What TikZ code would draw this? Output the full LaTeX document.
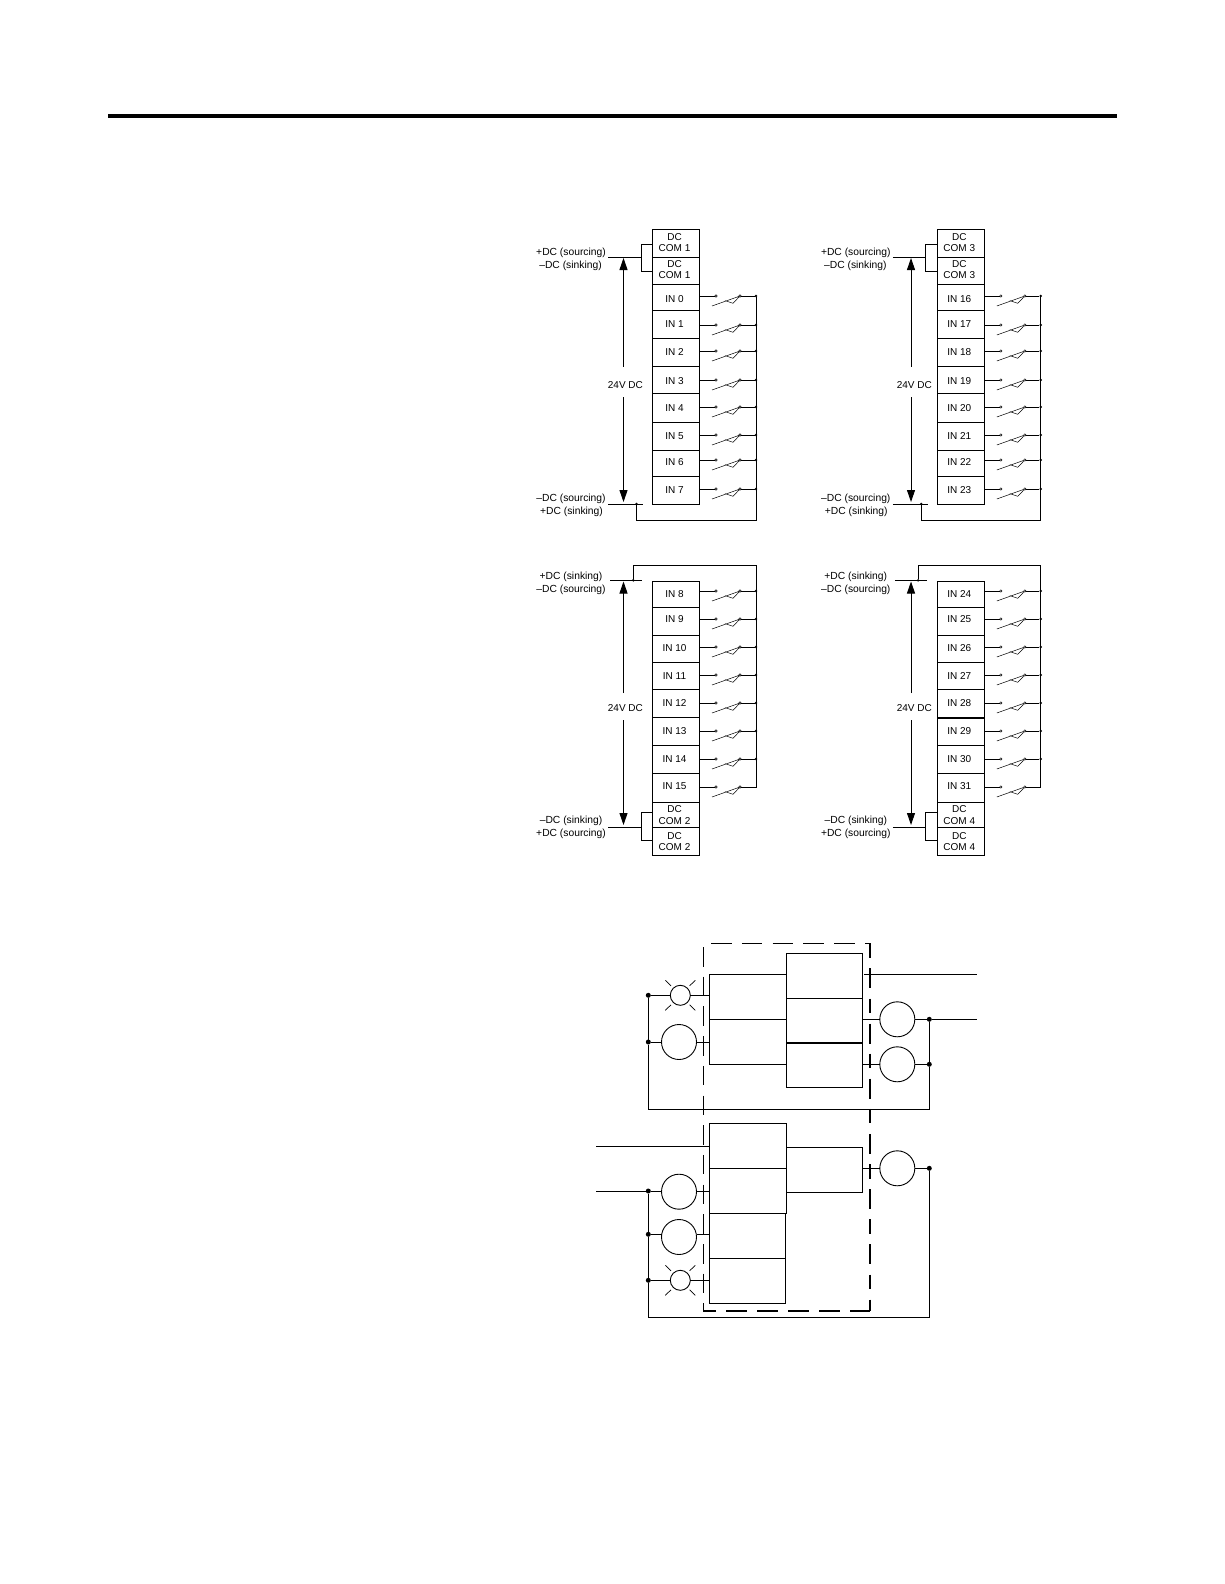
\documentclass[tikz,border=0pt]{standalone}
\usepackage{fontspec}
\setmainfont{Liberation Sans}
\usetikzlibrary{arrows.meta}
\tikzset{
  wire/.style={line width=0.95pt,black},
  term/.style={draw,line width=0.95pt,rectangle,inner sep=0pt,outer sep=0pt,minimum width=47pt},
  termtext/.style={inner sep=0pt,align=center,font=\fontsize{10}{11.7}\selectfont},
  blank/.style={draw,line width=1pt,rectangle,inner sep=0pt,outer sep=0pt},
  slabel/.style={inner sep=0pt,font=\fontsize{10.3}{12}\selectfont},
  vlabel/.style={inner sep=0pt,font=\fontsize{10}{12}\selectfont},
  sdot/.style={circle,fill=black,inner sep=0pt,outer sep=0pt,minimum size=2.8pt},
  nodot/.style={inner sep=0pt,outer sep=0pt},
  opencontact/.style={circle,draw,line width=0.5pt,fill=white,inner sep=0pt,outer sep=0pt,minimum size=2.4pt},
  bigdot/.style={circle,fill=black,inner sep=0pt,outer sep=0pt,minimum size=5pt},
  coil/.style={circle,draw,line width=0.9pt,inner sep=0pt,outer sep=0pt,minimum size=35pt},
  lamp/.style={circle,draw,line width=0.9pt,inner sep=0pt,outer sep=0pt,minimum size=20pt},
  ray/.style={line width=0.7pt},
  blade/.style={line width=0.5pt},
  volt/.style={line width=0.95pt,-{Triangle[width=8pt,length=12pt]}}
}
% #1 prefix, #2 index, #3 dx, #4 top, #5 bottom, #6 label, #7 label y shift
\newcommand\dcrow[7]{%
  \node[term,minimum height={(#5-#4)*1pt}] (#1r#2) at ({676+#3},{(#4+#5)/2}) {};
  \node[termtext] (#1x#2) at ({674.5+#3},{(#4+#5)/2+#7}) {#6};}
% #1 prefix, #2 index, #3 dx, #4 top, #5 bottom, #6 wire y, #7 label, #8 bus dot node style, #9 label y
\newcommand\inrow[9]{%
  \node[term,minimum height={(#5-#4)*1pt}] (#1r#2) at ({676+#3},{(#4+#5)/2}) {};
  \node[termtext] (#1x#2) at ({674.5+#3},#9) {#7};
  \node[opencontact] (#1a#2) at ({716+#3},#6) {};
  \node[opencontact] (#1b#2) at ({740+#3},#6) {};
  \node[#8] (#1d#2) at ({756+#3},#6) {};
  \draw[wire] (#1r#2.east |- #1a#2) -- (#1a#2);
  \draw[wire] (#1b#2) -- (#1d#2);
  \coordinate (#1s#2) at ({712+#3},{#6+10});
  \coordinate (#1m#2) at ({725+#3},{#6+4.6});
  \coordinate (#1n#2) at ({733+#3},{#6+7.3});
  \draw[blade] (#1s#2) -- (#1b#2) -- (#1n#2) -- (#1m#2);
}
\newcommand\upperpanel[6]{% prefix, dx, arrowx, labelx, com text, first-in number
  \dcrow{#1}{t}{#2}{229}{257}{DC\\COM #5}{-0.5}
  \dcrow{#1}{u}{#2}{257}{284}{DC\\COM #5}{-1}
  \foreach \i/\a/\b/\w/\y [evaluate=\i as \n using {int(\i+#6)}] in {0/284/310/296/298.8,1/310/338/325/324,2/338/366.5/351/352.3,3/366.5/393.7/380/380.6,4/393.7/422/407/407.8,5/422/450/435/436,6/450/476.5/460/462.4,7/476.5/504/489/489.6}
    {\inrow{#1}{\i}{#2}{\a}{\b}{\w}{IN \n}{sdot}{\y}}
  \node[slabel] (#1la) at ({571+#2},252.7) {+DC (sourcing)};
  \node[slabel] (#1lb) at ({570.5+#2},265.7) {–DC (sinking)};
  \node[slabel] (#1lc) at ({571+#2},499) {–DC (sourcing)};
  \node[slabel] (#1ld) at ({571.5+#2},512) {+DC (sinking)};
  \coordinate (#1p) at ({608+#2},257);
  \coordinate (#1q) at ({641+#2},257);
  \draw[wire] (#1p) -- (#1q);
  \coordinate (#1qa) at ({641+#2},244);
  \coordinate (#1qb) at ({641+#2},271);
  \draw[wire] (#1qa -| #1rt.west) -- (#1qa) -- (#1qb) -- (#1qb -| #1ru.west);
  \coordinate (#1e) at ({608+#2},504);
  \coordinate (#1f) at ({643+#2},504);
  \draw[wire] (#1e) -- (#1f);
  \node[sdot] (#1g) at ({636.5+#2},504) {};
  \coordinate (#1h) at ({756+#2},520);
  \draw[wire] (#1d0) -- (#1h) -- (#1h -| #1g) -- (#1g);
  \node[vlabel] (#1v) at (#4,384.6) {24V DC};
  \coordinate (#1vt) at (#3,258);
  \coordinate (#1vb) at (#3,502);
  \coordinate (#1vi) at (#3,366.7);
  \coordinate (#1vj) at (#3,397);
  \draw[volt] (#1vi) -- (#1vt);
  \draw[volt] (#1vj) -- (#1vb);
}
\newcommand\lowerpanel[6]{% prefix, dx, arrowx, labelx, com text, first-in number
  \foreach \i/\a/\b/\w/\y [evaluate=\i as \n using {int(\i+#6)}] in {0/581/607/591/594,1/607/635/619/618.8,2/635/662/647/648,3/662/689.5/675/676,4/689.5/717.8/703/702.6,5/717.8/745/731/731,6/745/773/759/758.6}
    {\inrow{#1}{\i}{#2}{\a}{\b}{\w}{IN \n}{sdot}{\y}}
  \pgfmathtruncatemacro\lastin{7+#6}
  \inrow{#1}{7}{#2}{773}{802}{787}{IN \lastin}{nodot}{786}
  \dcrow{#1}{t}{#2}{802}{827.3}{DC\\COM #5}{0.2}
  \dcrow{#1}{u}{#2}{827.3}{855}{DC\\COM #5}{0.5}
  \node[slabel] (#1la) at ({571+#2},576.7) {+DC (sinking)};
  \node[slabel] (#1lb) at ({571+#2},589.7) {–DC (sourcing)};
  \node[slabel] (#1lc) at ({571+#2},820.8) {–DC (sinking)};
  \node[slabel] (#1ld) at ({571+#2},833.7) {+DC (sourcing)};
  \coordinate (#1p) at ({610+#2},580.3);
  \coordinate (#1q) at ({642+#2},580.3);
  \draw[wire] (#1p) -- (#1q);
  \node[sdot] (#1g) at ({633.3+#2},580.3) {};
  \coordinate (#1h) at ({756+#2},565.7);
  \draw[wire] (#1g) -- (#1g |- #1h) -- (#1h) -- (#1d7.center) -- (#1b7);
  \coordinate (#1e) at ({608+#2},827.3);
  \coordinate (#1f) at ({641+#2},827.3);
  \draw[wire] (#1e) -- (#1f);
  \coordinate (#1qa) at ({641+#2},812.3);
  \coordinate (#1qb) at ({641+#2},840);
  \draw[wire] (#1qa -| #1rt.west) -- (#1qa) -- (#1qb) -- (#1qb -| #1ru.west);
  \node[vlabel] (#1v) at (#4,707.7) {24V DC};
  \coordinate (#1vt) at (#3,581.5);
  \coordinate (#1vb) at (#3,825);
  \coordinate (#1vi) at (#3,693);
  \coordinate (#1vj) at (#3,720);
  \draw[volt] (#1vi) -- (#1vt);
  \draw[volt] (#1vj) -- (#1vb);
}
% #1 name, #2 x left, #3 x right, #4 top, #5 bottom
\newcommand\bbox[5]{\node[blank,minimum width={(#3-#2)*1pt},minimum height={(#5-#4)*1pt}] (#1) at ({(#2+#3)/2},{(#4+#5)/2}) {};}
\newcommand\rays[1]{%
  \draw[ray] ([shift={(-9.3,-9.5)}]#1.center) -- ([shift={(-15,-15)}]#1.center);
  \draw[ray] ([shift={(9.3,-9.5)}]#1.center) -- ([shift={(15,-15)}]#1.center);
  \draw[ray] ([shift={(-9.3,9.5)}]#1.center) -- ([shift={(-15,15)}]#1.center);
  \draw[ray] ([shift={(9.3,9.5)}]#1.center) -- ([shift={(15,15)}]#1.center);
}
\begin{document}
\begin{tikzpicture}[x=1pt,y=-1pt]
\useasboundingbox[fill=white] (0,0) rectangle (1224,1584);
\coordinate (ruleL) at (108.3,115.7);
\coordinate (ruleR) at (1116.7,115.7);
\draw[line width=4pt] (ruleL) -- (ruleR);

\upperpanel{a}{0}{623.5}{625.4}{1}{0}
\upperpanel{b}{284.8}{911}{914.3}{3}{16}
\lowerpanel{c}{0}{623.5}{625.4}{2}{8}
\lowerpanel{d}{284.8}{911}{914.3}{4}{24}
\draw[line width=1.8pt] (dr4.south west) -- (dr4.south east);

% dashed enclosure
\coordinate (dTL) at (703.3,947);
\coordinate (dBL) at (703.3,1310.7);
\coordinate (dBR) at (870,1310.7);
\coordinate (dTR) at (870,943.3);
\coordinate (dTS) at (711,943.3);
\draw[line width=1pt,dash pattern=on 19.5pt off 10.2pt] (dTL) -- (dBL);
\draw[line width=1.3pt,dash pattern=on 20.5pt off 10.3pt] (dTS) -- (dTR);
\draw[line width=1.7pt,dash pattern=on 13pt off 10pt on 21pt off 10pt on 21pt off 10pt on 21pt off 10pt on 21pt off 10pt on 21pt off 10pt on 21pt off 10pt] (dBL) -- (dBR);
\draw[line width=2pt,dash pattern=on 14.5pt off 10.5pt on 20pt off 10.2pt] (dTR) -- (dBR);

% upper block
\bbox{ula}{709.3}{786.3}{974.3}{1019.3}
\bbox{ulb}{709.3}{786.3}{1019.3}{1064.3}
\bbox{ura}{786.3}{862.3}{953.3}{998.3}
\bbox{urb}{786.3}{862.3}{998.3}{1042.7}
\bbox{urc}{786.3}{862.3}{1042.7}{1087.3}
\draw[line width=2pt] (urc.north west) -- (urc.north east);
\node[lamp] (lampU) at (680.3,995.3) {};
\rays{lampU}
\node[coil] (coilU) at (679,1042) {};
\node[coil] (coilRa) at (897.3,1019.3) {};
\node[coil] (coilRb) at (897.3,1064.3) {};
\node[bigdot] (dUa) at (648.3,995.3) {};
\node[bigdot] (dUb) at (648.3,1042) {};
\node[bigdot] (dUc) at (929.3,1019.3) {};
\node[bigdot] (dUd) at (929.3,1064.3) {};
\coordinate (bUL) at (648.3,1109);
\coordinate (bUR) at (929.3,1109);
\coordinate (oUa) at (864,974.3);
\coordinate (eUa) at (976.7,974.3);
\coordinate (eUb) at (976.7,1019.3);
\draw[wire] (dUa) -- (lampU);
\draw[wire] (lampU) -- (lampU -| ula.west);
\draw[wire] (dUb) -- (coilU);
\draw[wire] (coilU) -- (coilU -| ulb.west);
\draw[wire] (dUa) -- (dUb) -- (bUL) -- (bUR) -- (dUd) -- (dUc);
\draw[wire] (coilRa -| urb.east) -- (coilRa);
\draw[wire] (coilRb -| urc.east) -- (coilRb);
\draw[wire] (coilRa) -- (dUc) -- (eUb);
\draw[wire] (coilRb) -- (dUd);
\draw[wire] (oUa) -- (eUa);

% lower block
\bbox{lla}{709.3}{786.3}{1123.3}{1168.3}
\bbox{llb}{709.3}{786.3}{1168.3}{1213.3}
\bbox{llc}{709.3}{785.6}{1213.3}{1258.3}
\bbox{lld}{709.3}{785.6}{1258.3}{1303.3}
\bbox{lra}{786.3}{862.3}{1147.3}{1192.3}
\node[coil] (coilLa) at (679,1191.7) {};
\node[coil] (coilLb) at (679,1237) {};
\node[lamp] (lampL) at (680.3,1280.3) {};
\rays{lampL}
\node[coil] (coilLc) at (897.3,1168.3) {};
\node[bigdot] (dLa) at (648.3,1191) {};
\node[bigdot] (dLb) at (648.3,1234.3) {};
\node[bigdot] (dLc) at (648.3,1280.3) {};
\node[bigdot] (dLd) at (929.3,1168.3) {};
\coordinate (bLL) at (648.3,1317.5);
\coordinate (bLR) at (929.3,1317.5);
\coordinate (eLa) at (596,1146.3);
\coordinate (eLb) at (596,1191);
\draw[wire] (eLa) -- (eLa -| lla.west);
\draw[wire] (eLb) -- (dLa) -- (dLa -| coilLa.west);
\draw[wire] (dLa -| coilLa.east) -- (dLa -| llb.west);
\draw[wire] (dLb) -- (dLb -| coilLb.west);
\draw[wire] (dLb -| coilLb.east) -- (dLb -| llc.west);
\draw[wire] (dLc) -- (lampL);
\draw[wire] (lampL) -- (lampL -| lld.west);
\draw[wire] (dLa) -- (dLb) -- (dLc) -- (bLL) -- (bLR) -- (dLd);
\draw[wire] (coilLc -| lra.east) -- (coilLc);
\draw[wire] (coilLc) -- (dLd);
\end{tikzpicture}
\end{document}
